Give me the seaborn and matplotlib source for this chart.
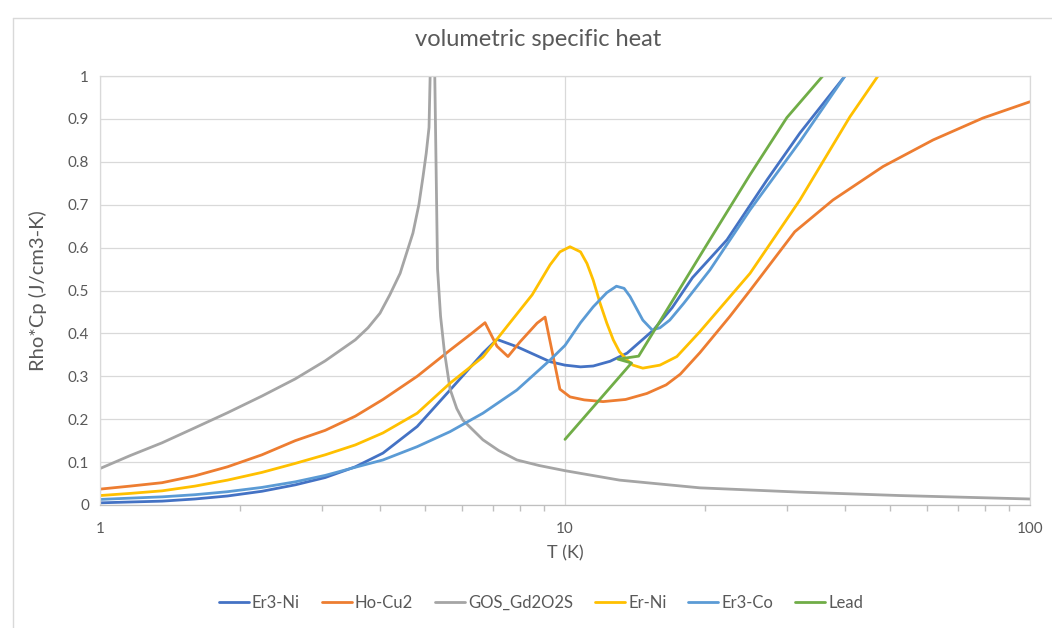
import matplotlib
matplotlib.use("Agg")
import pandas as pd
import matplotlib.pyplot as plt
import seaborn as sns
from matplotlib.lines import Line2D

sns.set_theme(style="white")
plt.rcParams["font.family"] = ["Lato", "DejaVu Sans"]

# valores (T em K, Rho*Cp em J/cm3-K)
er3ni_T = [1.0, 1.16, 1.36, 1.6, 1.88, 2.23, 2.63, 3.05, 3.54, 4.06, 4.81, 5.66, 6.66, 7.14,
           7.88, 9.29, 10.0, 10.8, 11.5, 12.5, 13.6, 15.5, 17.0, 18.8, 22.3, 27.2, 32.0, 40.0, 42.0]
er3ni = [0.005, 0.007, 0.009, 0.014, 0.021, 0.032, 0.047, 0.064, 0.089, 0.121, 0.183, 0.268, 0.354,
         0.386, 0.369, 0.334, 0.326, 0.322, 0.324, 0.335, 0.354, 0.408, 0.46, 0.53, 0.618, 0.758,
         0.867, 1.0, 1.03]

hocu_T = [1.0, 1.16, 1.36, 1.6, 1.88, 2.23, 2.63, 3.05, 3.54, 4.06, 4.81, 5.66, 6.3, 6.73,
          7.14, 7.54, 8.0, 8.71, 9.06, 9.75, 10.25, 11.0, 12.07, 13.5, 15.0, 16.5, 17.7, 19.5,
          22.6, 25.0, 31.2, 37.7, 48.3, 61.9, 79.2, 100.0]
hocu = [0.037, 0.044, 0.052, 0.068, 0.089, 0.117, 0.15, 0.174, 0.207, 0.246, 0.30, 0.361, 0.40,
        0.425, 0.37, 0.346, 0.38, 0.424, 0.438, 0.27, 0.252, 0.245, 0.241, 0.246, 0.26, 0.28,
        0.305, 0.355, 0.439, 0.50, 0.637, 0.711, 0.789, 0.851, 0.902, 0.94]

gos_T = [1.0, 1.16, 1.36, 1.6, 1.88, 2.23, 2.63, 3.05, 3.54, 3.77, 4.0, 4.2, 4.42, 4.71, 4.85,
         4.95, 5.03, 5.10, 5.20, 5.32, 5.40, 5.50, 5.66, 5.85, 6.03, 6.66, 7.2, 7.88, 8.8, 10.0,
         13.1, 19.5, 32.0, 52.6, 100.0]
gos = [0.085, 0.115, 0.145, 0.18, 0.215, 0.254, 0.294, 0.336, 0.385, 0.413, 0.447, 0.49, 0.54,
       0.634, 0.70, 0.765, 0.82, 0.88, 1.30, 0.55, 0.44, 0.36, 0.27, 0.225, 0.198, 0.152, 0.127,
       0.105, 0.092, 0.08, 0.058, 0.04, 0.03, 0.022, 0.014]

erni_T = [1.0, 1.16, 1.36, 1.6, 1.88, 2.23, 2.63, 3.05, 3.54, 4.06, 4.81, 5.66, 6.66, 7.50,
          8.50, 9.29, 9.75, 10.25, 10.8, 11.15, 11.5, 11.9, 12.3, 12.7, 13.1, 13.6, 14.0, 14.7,
          16.0, 17.4, 19.5, 25.0, 32.0, 41.0, 47.1, 50.0]
erni = [0.022, 0.027, 0.033, 0.044, 0.058, 0.076, 0.097, 0.117, 0.14, 0.168, 0.214, 0.284, 0.345,
        0.416, 0.49, 0.56, 0.59, 0.602, 0.59, 0.563, 0.524, 0.47, 0.424, 0.385, 0.357, 0.338,
        0.326, 0.319, 0.326, 0.346, 0.404, 0.54, 0.711, 0.905, 1.0, 1.05]

erco_T = [1.0, 1.16, 1.36, 1.6, 1.88, 2.23, 2.63, 3.05, 3.54, 4.06, 4.81, 5.66, 6.66, 7.88,
          9.29, 10.0, 10.8, 11.5, 12.3, 12.9, 13.4, 13.8, 14.7, 15.4, 16.0, 16.8, 18.0, 20.5,
          25.0, 32.0, 40.0, 42.0]
erco = [0.013, 0.016, 0.019, 0.024, 0.031, 0.041, 0.054, 0.069, 0.088, 0.105, 0.136, 0.171, 0.214,
        0.268, 0.338, 0.372, 0.425, 0.462, 0.495, 0.51, 0.505, 0.486, 0.431, 0.408, 0.413, 0.431,
        0.47, 0.548, 0.688, 0.847, 1.0, 1.04]

lead_T = [10.0, 13.9, 13.0, 14.4, 20.0, 25.0, 30.0, 40.0]
lead = [0.153, 0.331, 0.34, 0.347, 0.6, 0.77, 0.903, 1.06]

materiais = ["Er3-Ni", "Ho-Cu2", "GOS_Gd2O2S", "Er-Ni", "Er3-Co", "Lead"]
cores = ["#4472C4", "#ED7D31", "#A5A5A5", "#FFC000", "#5B9BD5", "#70AD47"]

series = [(er3ni_T, er3ni), (hocu_T, hocu), (gos_T, gos),
          (erni_T, erni), (erco_T, erco), (lead_T, lead)]
partes = []
for nome, (t, v) in zip(materiais, series):
    partes.append(pd.DataFrame({"T": t, "rc": v, "material": nome}))
dados = pd.concat(partes, ignore_index=True)

x_ticks = [1, 10, 100]
x_tick_labels = ["1", "10", "100"]
y_ticks = [0, 0.1, 0.2, 0.3, 0.4, 0.5, 0.6, 0.7, 0.8, 0.9, 1.0]
y_tick_labels = ["0", "0.1", "0.2", "0.3", "0.4", "0.5", "0.6", "0.7", "0.8", "0.9", "1"]

cinza_txt = "#595959"
cinza_grid = "#D9D9D9"

fig = plt.figure(figsize=(10.52, 6.28), dpi=100)
ax = fig.add_axes([100 / 1052, 1 - 505 / 628, 930 / 1052, 429 / 628])

sns.lineplot(data=dados, x="T", y="rc", hue="material", hue_order=materiais,
             palette=dict(zip(materiais, cores)), sort=False, estimator=None,
             linewidth=2.0, ax=ax)

ax.set_xscale("log")
ax.set_xlim(1, 100)
ax.set_ylim(0, 1)
ax.set_xticks(x_ticks, labels=x_tick_labels)
ax.set_yticks(y_ticks, labels=y_tick_labels)
ax.set_axisbelow(True)
ax.yaxis.grid(True, color=cinza_grid, lw=0.9)
ax.xaxis.grid(True, which="major", color=cinza_grid, lw=0.9)
for s in ax.spines.values():
    s.set_color(cinza_grid)
    s.set_linewidth(0.9)
ax.spines["bottom"].set_color("#BFBFBF")
ax.tick_params(axis="x", which="both", direction="out", length=4, color="#BFBFBF",
               labelsize=11, labelcolor=cinza_txt, pad=8)
ax.tick_params(axis="x", which="minor", bottom=True)
ax.tick_params(axis="y", length=0, labelsize=11, labelcolor=cinza_txt, pad=8)

ax.set_xlabel("T (K)", fontsize=13, color=cinza_txt, labelpad=7)
ax.set_ylabel("Rho*Cp (J/cm3-K)", fontsize=14.5, color=cinza_txt, labelpad=15)

handles, labels = ax.get_legend_handles_labels()
ax.get_legend().remove()
fig.legend(handles, labels, loc="center", bbox_to_anchor=(541 / 1052, 1 - 603 / 628),
           ncol=6, frameon=False, fontsize=12, handlelength=1.8, handletextpad=0.2,
           columnspacing=1.3, labelcolor=cinza_txt)

fig.text(538 / 1052, 1 - 40 / 628, "volumetric specific heat", ha="center", va="center",
         fontsize=17, color=cinza_txt)

# borda do gráfico (captura do Excel)
fig.add_artist(Line2D([13 / 1052, 13 / 1052], [0, 1 - 18 / 628], color=cinza_grid, lw=1))
fig.add_artist(Line2D([13 / 1052, 1], [1 - 18 / 628, 1 - 18 / 628], color=cinza_grid, lw=1))

fig.savefig("out.png", dpi=100)
